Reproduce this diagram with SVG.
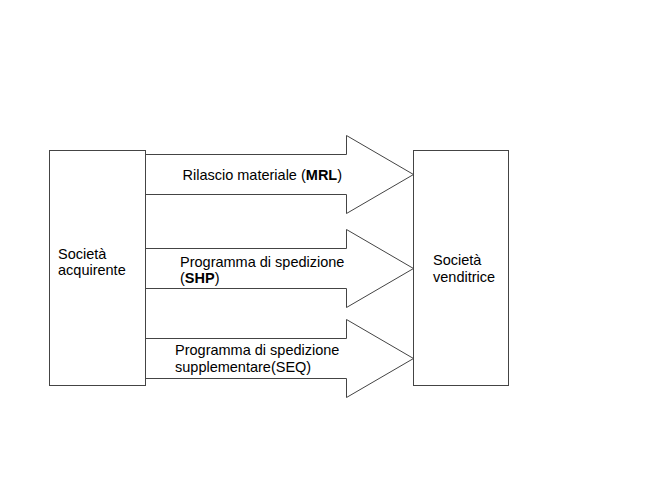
<svg xmlns="http://www.w3.org/2000/svg" width="672" height="504" viewBox="0 0 672 504">
<style>
.box{fill:#fff;stroke:#444;stroke-width:1}
.arr{fill:#fff;stroke:#444;stroke-width:1}
text{font-family:"Liberation Sans",Arial,sans-serif;font-size:14.5px;fill:#000}
.b{font-weight:bold}
</style>
<rect width="672" height="504" fill="#fff"/>
<g id="connectors">
<polyline class="arr" points="145.5,154.5 346.5,154.5 346.5,135.5 413.5,174.5 346.5,213.5 346.5,194.5 145.5,194.5"/>
<polyline class="arr" points="145.5,248.5 346.5,248.5 346.5,229.5 413.5,268.5 346.5,307.5 346.5,288.5 145.5,288.5"/>
<polyline class="arr" points="145.5,338.5 346.5,338.5 346.5,319.5 413.5,358.5 346.5,397.5 346.5,378.5 145.5,378.5"/>
<text x="182.5" y="180">Rilascio materiale (<tspan class="b">MRL</tspan>)</text>
<text x="180" y="266.5">Programma di spedizione</text>
<text x="180" y="283">(<tspan class="b">SHP</tspan>)</text>
<text x="175" y="355">Programma di spedizione</text>
<text x="175" y="371.5">supplementare(SEQ)</text>
</g>
<g id="acquirente">
<rect class="box" x="49.5" y="150.5" width="96" height="235"/>
<text x="58" y="259">Società</text>
<text x="58" y="275">acquirente</text>
</g>
<g id="venditrice">
<rect class="box" x="413.5" y="150.5" width="95" height="235"/>
<text x="433" y="265">Società</text>
<text x="433" y="281.5">venditrice</text>
</g>
</svg>
